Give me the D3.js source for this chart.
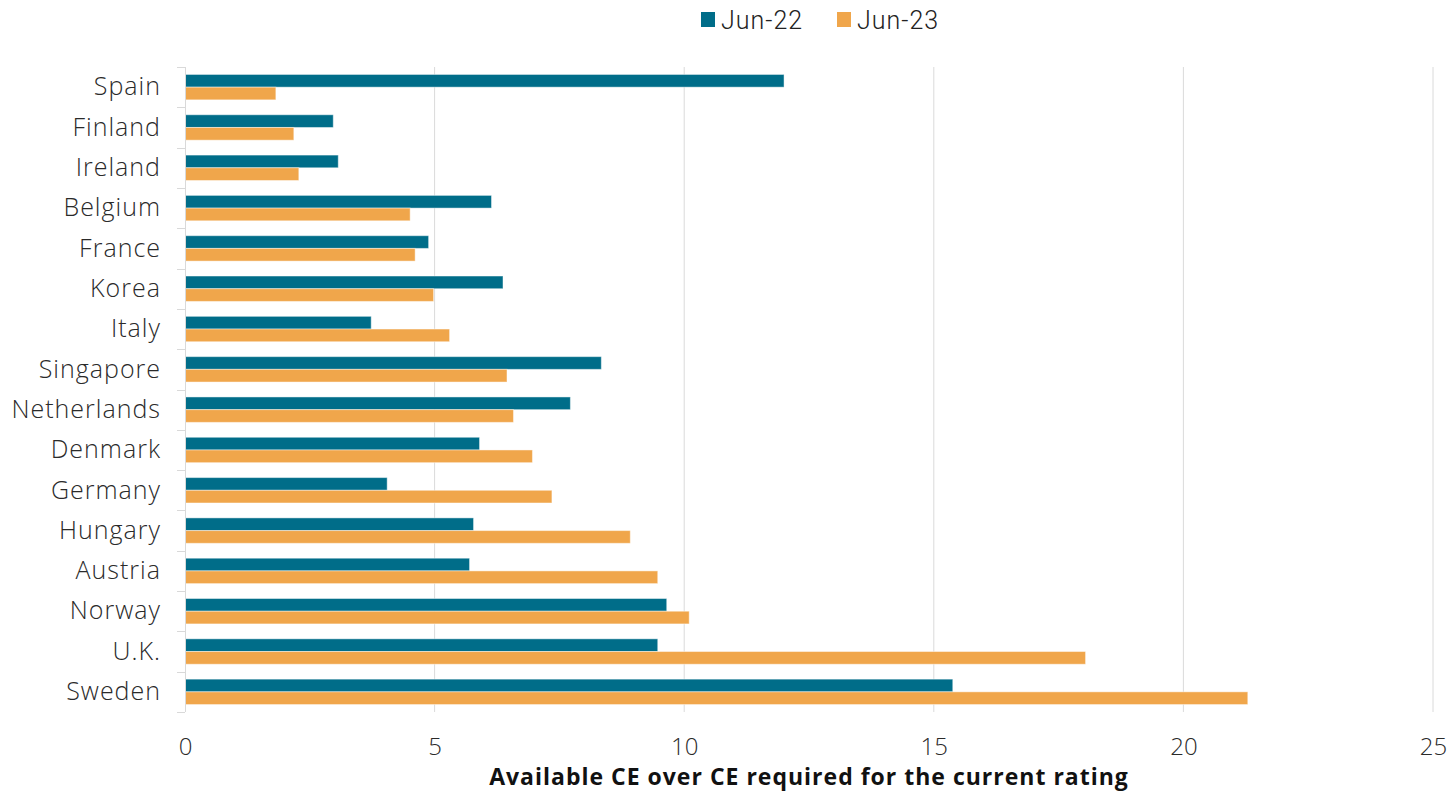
<!DOCTYPE html>
<html>
<head>
<meta charset="utf-8">
<script src="https://cdn.jsdelivr.net/npm/d3@7"></script>
<style>
  html, body { margin: 0; padding: 0; background: #fff; }
  svg { display: block; font-family: "Open Sans", Roboto, sans-serif; }
</style>
</head>
<body>
<svg id="chart" width="1452" height="793"></svg>
<script>
// Countries, top to bottom
const countries = ["Spain", "Finland", "Ireland", "Belgium", "France", "Korea", "Italy",
  "Singapore", "Netherlands", "Denmark", "Germany", "Hungary", "Austria", "Norway", "U.K.", "Sweden"];

// Available CE over CE required for the current rating
const jun22 = [12.0, 2.97, 3.07, 6.14, 4.88, 6.37, 3.73, 8.34, 7.72, 5.90, 4.05, 5.78, 5.70, 9.65, 9.47, 15.38];
const jun23 = [1.82, 2.18, 2.28, 4.51, 4.61, 4.98, 5.30, 6.45, 6.58, 6.96, 7.35, 8.92, 9.47, 10.10, 18.04, 21.29];

const seriesNames = ["Jun-22", "Jun-23"];
const seriesColors = ["#006d89", "#f0a64b"];
const xTicks = [0, 5, 10, 15, 20, 25];
const xTitle = "Available CE over CE required for the current rating";

const rows = countries.map((c, i) => ({ country: c, values: [jun22[i], jun23[i]] }));

const svg = d3.select("#chart");
const margin = { left: 185, right: 19, top: 67, bottom: 81 };
const W = 1452, H = 793;

const x = d3.scaleLinear().domain([0, 25]).range([margin.left, W - margin.right]);
const y = d3.scaleBand().domain(countries)
  .range([margin.top, H - margin.bottom])
  .paddingInner(0.37).paddingOuter(0.185);
const ySub = d3.scaleBand().domain([0, 1]).range([0, y.bandwidth()]);

// Vertical gridlines
svg.append("g")
  .selectAll("line")
  .data(xTicks.filter(t => t > 0))
  .join("line")
  .attr("x1", d => x(d)).attr("x2", d => x(d))
  .attr("y1", margin.top).attr("y2", H - margin.bottom)
  .attr("stroke", "#dadada").attr("stroke-width", 1);

// Bars
const groups = svg.append("g").selectAll("g")
  .data(rows)
  .join("g")
  .attr("transform", d => `translate(0,${y(d.country)})`);

groups.selectAll("rect")
  .data(d => d.values.map((v, k) => ({ v, k })))
  .join("rect")
  .attr("x", x(0))
  .attr("y", d => ySub(d.k))
  .attr("width", d => x(d.v) - x(0))
  .attr("height", ySub.bandwidth())
  .attr("fill", d => seriesColors[d.k])
  .attr("stroke", "rgba(255,255,255,0.45)")
  .attr("stroke-width", 1);

// Category axis with ticks between bands
const yAxisG = svg.append("g");
yAxisG.append("line")
  .attr("x1", x(0) + 0.5).attr("x2", x(0) + 0.5)
  .attr("y1", margin.top).attr("y2", H - margin.bottom)
  .attr("stroke", "#d9d9d9");
const boundaries = d3.range(countries.length + 1).map(i => margin.top + i * y.step());
yAxisG.selectAll(".tk")
  .data(boundaries)
  .join("line")
  .attr("class", "tk")
  .attr("x1", x(0) - 8).attr("x2", x(0))
  .attr("y1", d => Math.round(d) + 0.5).attr("y2", d => Math.round(d) + 0.5)
  .attr("stroke", "#d9d9d9");
yAxisG.selectAll("text")
  .data(countries)
  .join("text")
  .attr("x", x(0) - 24)
  .attr("y", d => y(d) + y.bandwidth() / 2)
  .attr("dy", "0.33em")
  .attr("text-anchor", "end")
  .attr("font-size", 25)
  .attr("font-weight", 300)
  .attr("letter-spacing", 1)
  .attr("fill", "#2a2a2a")
  .text(d => d);

// Value axis labels
const xAxis = d3.axisBottom(x).tickValues(xTicks).tickSize(0).tickPadding(0);
const xAxisG = svg.append("g")
  .attr("transform", `translate(0,${H - margin.bottom + 26})`)
  .call(xAxis);
xAxisG.select(".domain").remove();
xAxisG.selectAll("text")
  .attr("font-size", 24)
  .attr("font-weight", 300)
  .attr("font-family", "'Open Sans', Roboto, sans-serif")
  .attr("fill", "#2a2a2a");

// Axis title
svg.append("text")
  .attr("x", 809)
  .attr("y", 785)
  .attr("text-anchor", "middle")
  .attr("font-size", 23)
  .attr("font-weight", 700)
  .attr("letter-spacing", 1)
  .attr("fill", "#111")
  .text(xTitle);

// Legend
const legendItems = [{ x: 701 }, { x: 837 }];
const legend = svg.append("g").selectAll("g")
  .data(seriesNames)
  .join("g")
  .attr("transform", (d, i) => `translate(${legendItems[i].x},12)`);
legend.append("rect")
  .attr("width", 14).attr("height", 15)
  .attr("fill", (d, i) => seriesColors[i]);
legend.append("text")
  .attr("x", 20).attr("y", 8)
  .attr("dy", "0.35em")
  .attr("font-family", "Roboto, sans-serif")
  .attr("font-size", 25)
  .attr("font-weight", 300)
  .attr("letter-spacing", 1)
  .attr("fill", "#222")
  .text(d => d);
</script>
</body>
</html>
